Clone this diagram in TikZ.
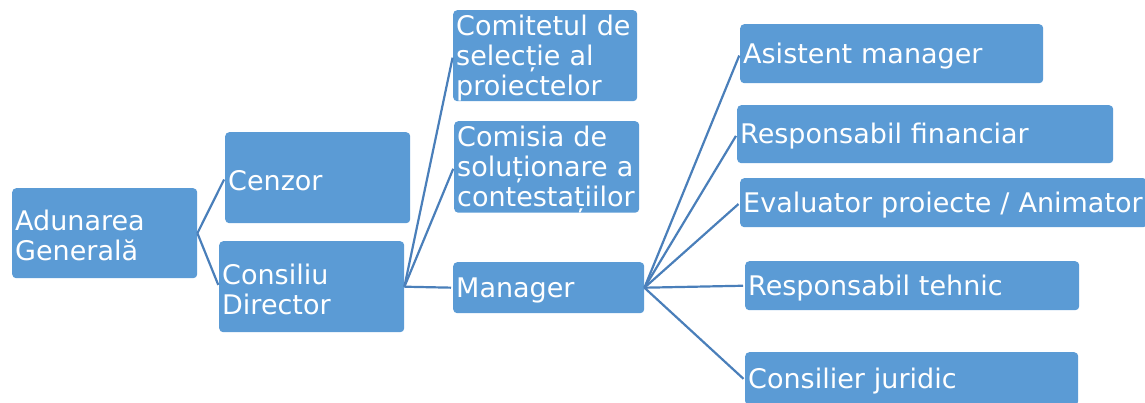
\documentclass[tikz,border=0pt]{standalone}
\usepackage{fontspec}
\setmainfont{DejaVu Sans}
\usepackage{tikz}

\definecolor{boxblue}{HTML}{5B9BD5}
\definecolor{linkblue}{HTML}{4A7FBA}

\tikzset{
	unit/.style={rectangle,rounded corners=4pt,fill=boxblue,text=white,anchor=north west,
		align=left,inner xsep=3pt,inner ysep=0pt,font=\fontsize{27}{30}\selectfont,
		execute at begin node={\rule{0pt}{25pt}}},
	link/.style={draw=linkblue,line width=2.2pt,shorten >=2pt}
}

\begin{document}
\begin{tikzpicture}[x=1pt,y=-1pt]
		\useasboundingbox (0,0) rectangle (1145,402);
		\clip (0,0) rectangle (1145,402);
		% left part
		\node[unit,text width=179pt,minimum height=90pt] (ag) at (12,188) {Adunarea\\Generală};
		\node[unit,text width=179pt,minimum height=91pt] (cz) at (225,132) {Cenzor};
		\node[unit,text width=179pt,minimum height=91pt] (cd) at (219,241) {Consiliu\\Director};
		% middle column
		\node[unit,text width=178pt,minimum height=91pt] (ct) at (453,10) {Comitetul de\\selecție al\\proiectelor};
		\node[unit,text width=179pt,minimum height=91pt] (cs) at (454,121) {Comisia de\\soluționare a\\contestațiilor};
		\node[unit,text width=185pt,minimum height=51pt] (mg) at (453,262) {Manager};
		% right column
		\node[unit,text width=297pt,minimum height=59pt] (am) at (740,24) {Asistent manager};
		\node[unit,text width=370pt,minimum height=58pt] (rf) at (737,105) {Responsabil financiar};
		\node[unit,text width=401pt,minimum height=49pt] (ev) at (740,178) {Evaluator proiecte / Animator};
		\node[unit,text width=328pt,minimum height=49pt] (rt) at (745,261) {Responsabil tehnic};
		\node[unit,text width=327pt,minimum height=53pt] (cj) at (745,352) {Consilier juridic};
		% connectors
		\foreach \c in {cz,cd}
			\draw[link] (ag.east) -- (\c.west);
		\foreach \c in {ct,cs,mg}
			\draw[link] (cd.east) -- (\c.west);
		\foreach \c in {am,rf,ev,rt}
			\draw[link] (mg.east) -- (\c.west);
		\draw[link] (mg.east) -- ([yshift=-1.5pt]cj.west);
\end{tikzpicture}
\end{document}
